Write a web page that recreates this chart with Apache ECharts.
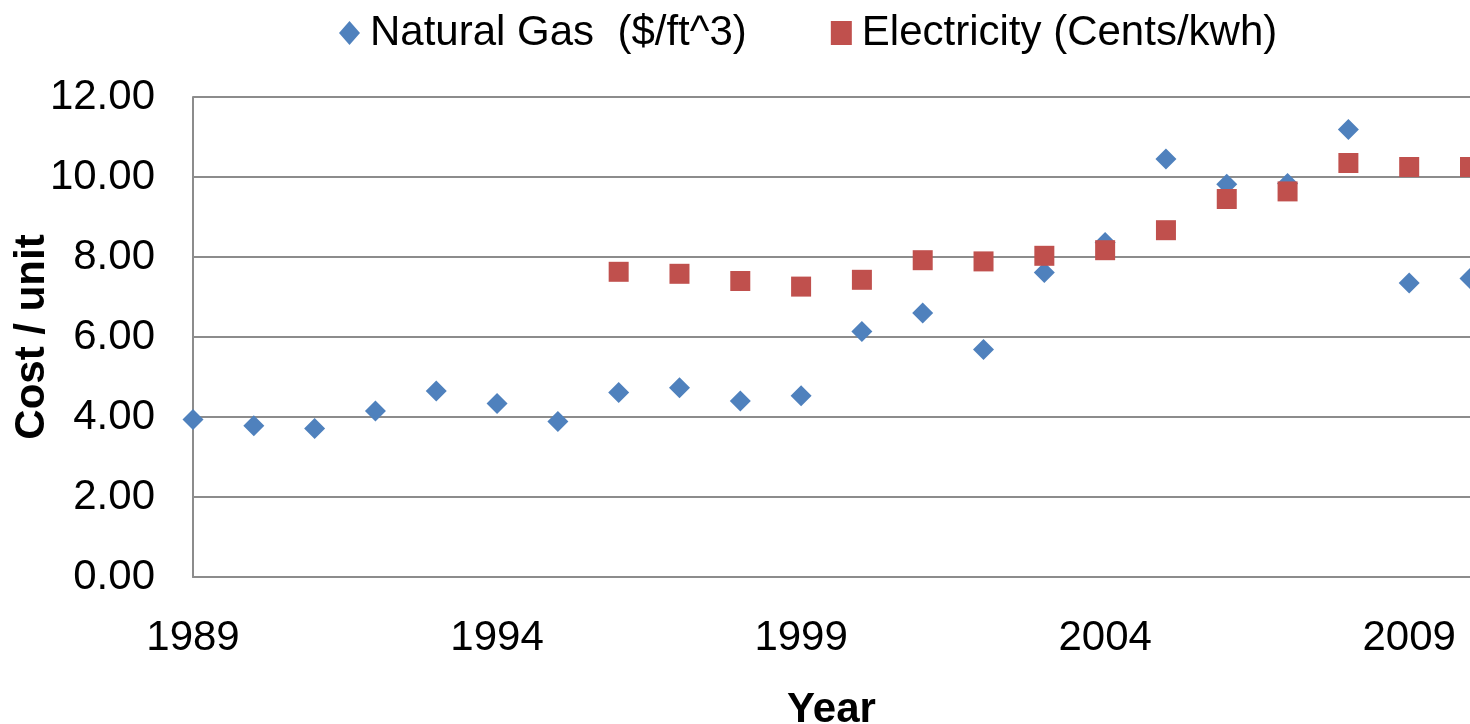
<!DOCTYPE html>
<html>
<head>
<meta charset="utf-8">
<script src="https://cdn.jsdelivr.net/npm/echarts@6/dist/echarts.min.js"></script>
<style>
  html, body { margin: 0; padding: 0; background: #fff; }
  #main { width: 1470px; height: 724px; }
</style>
</head>
<body>
<div id="main"></div>
<script>
// data
const gasYears = [1989, 1990, 1991, 1992, 1993, 1994, 1995, 1996, 1997, 1998, 1999,
  2000, 2001, 2002, 2003, 2004, 2005, 2006, 2007, 2008, 2009, 2010]
const gasCost = [3.94, 3.78, 3.71, 4.15, 4.65, 4.34, 3.89, 4.61, 4.73, 4.40, 4.53,
  6.14, 6.60, 5.69, 7.61, 8.36, 10.45, 9.82, 9.84, 11.19, 7.35, 7.46]
const elecYears = [1996, 1997, 1998, 1999, 2000, 2001, 2002, 2003, 2004, 2005,
  2006, 2007, 2008, 2009, 2010]
const elecCost = [7.63, 7.58, 7.40, 7.26, 7.43, 7.92, 7.89, 8.03, 8.17, 8.67,
  9.45, 9.64, 10.35, 10.25, 10.25]

const font = '"Liberation Sans", Arial, sans-serif'
const gridColor = '#8c8c8c'

const chart = echarts.init(document.getElementById('main'))

const option = {
  animation: false,
  textStyle: { fontFamily: font },
  legend: {
    left: 334,
    top: 7,
    itemGap: 84,
    itemWidth: 21,
    itemHeight: 24,
    textStyle: { fontSize: 42, color: '#000', fontFamily: font, padding: [0, 0, 0, 5] },
    data: [
      { name: 'Natural Gas  ($/ft^3)', icon: 'diamond' },
      { name: 'Electricity (Cents/kwh)', icon: 'rect' }
    ]
  },
  grid: {
    left: 193,
    right: 0,
    top: 97,
    bottom: 147,
    outerBoundsMode: 'none'
  },
  xAxis: {
    type: 'value',
    min: 1989,
    max: 2010,
    interval: 5,
    name: 'Year',
    nameLocation: 'middle',
    nameGap: 112,
    nameMoveOverlap: false,
    nameTextStyle: { fontSize: 42, fontWeight: 'bold', color: '#000', fontFamily: font },
    axisLine: { show: true, onZero: false, lineStyle: { color: gridColor, width: 2 } },
    axisTick: { show: false },
    splitLine: { show: false },
    axisLabel: {
      fontSize: 42,
      color: '#000',
      margin: 40,
      showMaxLabel: false,
      formatter: v => String(v)
    }
  },
  yAxis: {
    type: 'value',
    min: 0,
    max: 12,
    interval: 2,
    name: 'Cost / unit',
    nameLocation: 'middle',
    nameGap: 140,
    nameMoveOverlap: false,
    nameTextStyle: { fontSize: 42, fontWeight: 'bold', color: '#000', fontFamily: font },
    axisLine: { show: true, lineStyle: { color: gridColor, width: 2 } },
    axisTick: { show: false },
    splitLine: { show: true, lineStyle: { color: gridColor, width: 2 } },
    axisLabel: {
      fontSize: 42,
      color: '#000',
      margin: 38,
      formatter: v => v.toFixed(2)
    }
  },
  series: [
    {
      name: 'Natural Gas  ($/ft^3)',
      type: 'scatter',
      symbol: 'diamond',
      symbolSize: 21,
      clip: false,
      itemStyle: { color: '#4f81bd', opacity: 1 },
      data: gasYears.map((y, i) => [y, gasCost[i]])
    },
    {
      name: 'Electricity (Cents/kwh)',
      type: 'scatter',
      symbol: 'rect',
      symbolSize: 20,
      clip: false,
      itemStyle: { color: '#c0504d', opacity: 1 },
      data: elecYears.map((y, i) => [y, elecCost[i]])
    }
  ]
}

chart.setOption(option)
</script>
</body>
</html>
